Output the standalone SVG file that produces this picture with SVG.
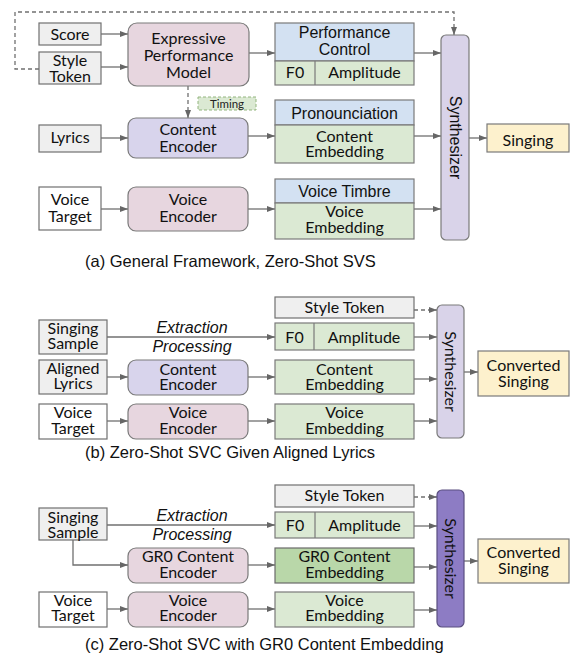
<svg xmlns="http://www.w3.org/2000/svg" width="577" height="657" viewBox="0 0 577 657">
<defs>
<marker id="ah" markerUnits="userSpaceOnUse" markerWidth="8" markerHeight="6" refX="8" refY="3" orient="auto">
<path d="M0,0 L8,3 L0,6 z" fill="#666"/>
</marker>
<style>
.c{fill:none;stroke:#707070;stroke-width:1.3}
.d{stroke-dasharray:4 3}
.gray{fill:#efefef;stroke:#707070;stroke-width:1.2}
.white{fill:#ffffff;stroke:#707070;stroke-width:1.2}
.blue{fill:#d3e1f2;stroke:#7a7a7a;stroke-width:1.2}
.green{fill:#dbe9d3;stroke:#7a7a7a;stroke-width:1.2}
.dgreen{fill:#b9d7a9;stroke:#6a6a6a;stroke-width:1.2}
.pink{fill:#e7d6df;stroke:#7a7a7a;stroke-width:1.2}
.lav{fill:#d8d4ec;stroke:#7a7a7a;stroke-width:1.2}
.syn{fill:#d9d3e9;stroke:#7a7a7a;stroke-width:1.2}
.syn2{fill:#8d7cc4;stroke:#5a4f80;stroke-width:1.2}
.yel{fill:#fdf1cd;stroke:#7a7a7a;stroke-width:1.2}
.t{font-family:Lato,"Open Sans",sans-serif;font-size:16px;fill:#111;text-anchor:middle}
.a{font-family:"Liberation Sans",Arial,sans-serif;font-size:16px;fill:#111;text-anchor:middle}
.i{font-family:"Liberation Sans",Arial,sans-serif;font-size:16px;font-style:italic;fill:#111;text-anchor:middle}
.cap{font-family:"Liberation Sans",Arial,sans-serif;font-size:16.5px;fill:#111}
</style>
</defs>

<g id="connectors">
<!-- (a) -->
<path class="c" d="M101,34 H128" marker-end="url(#ah)"/>
<path class="c" d="M101,67 H128" marker-end="url(#ah)"/>
<path class="c" d="M249,53 H275" marker-end="url(#ah)"/>
<path class="c d" d="M188,86 V118" marker-end="url(#ah)"/>
<path class="c" d="M101,138 H128" marker-end="url(#ah)"/>
<path class="c" d="M248,136 H275" marker-end="url(#ah)"/>
<path class="c" d="M101,209 H128" marker-end="url(#ah)"/>
<path class="c" d="M248,209 H275" marker-end="url(#ah)"/>
<path class="c" d="M414,53 H441" marker-end="url(#ah)"/>
<path class="c" d="M414,136 H441" marker-end="url(#ah)"/>
<path class="c" d="M414,209 H441" marker-end="url(#ah)"/>
<path class="c" d="M469,138 H487" marker-end="url(#ah)"/>
<path class="c d" d="M39,69 H15 V12 H454 V35" marker-end="url(#ah)"/>
<!-- (b) -->
<path class="c" d="M107,337 H275" marker-end="url(#ah)"/>
<path class="c" d="M107,377 H128" marker-end="url(#ah)"/>
<path class="c" d="M248,377 H275" marker-end="url(#ah)"/>
<path class="c" d="M107,421 H128" marker-end="url(#ah)"/>
<path class="c" d="M248,421 H275" marker-end="url(#ah)"/>
<path class="c d" d="M414,310 H437" marker-end="url(#ah)"/>
<path class="c" d="M414,337 H437" marker-end="url(#ah)"/>
<path class="c" d="M414,379 H437" marker-end="url(#ah)"/>
<path class="c" d="M414,421 H437" marker-end="url(#ah)"/>
<path class="c" d="M464,372 H478" marker-end="url(#ah)"/>
<!-- (c) -->
<path class="c" d="M107,525 H275" marker-end="url(#ah)"/>
<path class="c" d="M73,540 V565 H128" marker-end="url(#ah)"/>
<path class="c" d="M248,565 H275" marker-end="url(#ah)"/>
<path class="c" d="M107,609 H128" marker-end="url(#ah)"/>
<path class="c" d="M248,609 H275" marker-end="url(#ah)"/>
<path class="c d" d="M414,497 H437" marker-end="url(#ah)"/>
<path class="c" d="M414,526 H437" marker-end="url(#ah)"/>
<path class="c" d="M414,567 H437" marker-end="url(#ah)"/>
<path class="c" d="M414,610 H437" marker-end="url(#ah)"/>
<path class="c" d="M464,561 H478" marker-end="url(#ah)"/>
</g>

<!-- ===== (a) ===== -->
<g id="a-score"><rect class="gray" x="39" y="23" width="62" height="22"/><text class="t" x="70" y="39.5">Score</text></g>
<g id="a-style"><rect class="gray" x="39" y="52" width="62" height="32"/><text class="t" x="70" y="66">Style</text><text class="t" x="70" y="81.5">Token</text></g>
<g id="a-epm"><rect class="pink" x="128" y="23" width="121" height="63" rx="9"/><text class="t" x="188.5" y="44">Expressive</text><text class="t" x="188.5" y="61">Performance</text><text class="t" x="188.5" y="77.5">Model</text></g>
<g id="a-timing"><rect x="198" y="97" width="58" height="13" fill="#dbe9d3" stroke="#93b57f" stroke-width="1" stroke-dasharray="3 2"/><text x="227" y="107.5" font-family="Lato,'Open Sans',sans-serif" font-size="11.5" fill="#222" text-anchor="middle">Timing</text></g>
<g id="a-perf"><rect class="blue" x="275" y="23" width="139" height="38"/><rect class="green" x="275" y="61" width="139" height="24"/><line x1="315" y1="61" x2="315" y2="85" stroke="#7a7a7a" stroke-width="1.2"/>
<text class="a" x="344.5" y="38">Performance</text><text class="a" x="344.5" y="54.5">Control</text><text class="t" x="295" y="78">F0</text><text class="t" x="364.5" y="78">Amplitude</text></g>
<g id="a-lyrics"><rect class="gray" x="39" y="125" width="62" height="27"/><text class="t" x="70" y="143">Lyrics</text></g>
<g id="a-ce"><rect class="lav" x="128" y="118" width="120" height="40" rx="8"/><text class="t" x="188" y="135">Content</text><text class="t" x="188" y="152">Encoder</text></g>
<g id="a-pron"><rect class="blue" x="275" y="100" width="139" height="25"/><rect class="green" x="275" y="125" width="139" height="38"/><text class="a" x="344.5" y="118.5">Pronounciation</text><text class="t" x="344.5" y="141.5">Content</text><text class="t" x="344.5" y="157">Embedding</text></g>
<g id="a-vt"><rect class="white" x="39" y="187" width="62" height="43"/><text class="t" x="70" y="205">Voice</text><text class="t" x="70" y="221.5">Target</text></g>
<g id="a-ve"><rect class="pink" x="128" y="187" width="120" height="44" rx="8"/><text class="t" x="188" y="205">Voice</text><text class="t" x="188" y="222">Encoder</text></g>
<g id="a-timbre"><rect class="blue" x="275" y="179" width="139" height="24"/><rect class="green" x="275" y="203" width="139" height="36"/><text class="a" x="344.5" y="196.5">Voice Timbre</text><text class="t" x="344.5" y="217">Voice</text><text class="t" x="344.5" y="232.5">Embedding</text></g>
<g id="a-synth"><rect class="syn" x="441" y="35" width="28" height="205" rx="5"/><text class="a" transform="translate(455,137.5) rotate(90)" y="5.5">Synthesizer</text></g>
<g id="a-singing"><rect class="yel" x="487" y="124" width="82" height="28"/><text class="t" x="528" y="145.5" font-size="20">Singing</text></g>
<text class="cap" x="85" y="267">(a) General Framework, Zero-Shot SVS</text>

<!-- ===== (b) ===== -->
<g id="b-ss"><rect class="gray" x="39" y="320" width="68" height="34"/><text class="t" x="73" y="333.5">Singing</text><text class="t" x="73" y="349">Sample</text></g>
<text class="i" x="192" y="333">Extraction</text><text class="i" x="192" y="351.5">Processing</text>
<g id="b-al"><rect class="gray" x="39" y="360" width="68" height="34"/><text class="t" x="73" y="373.5">Aligned</text><text class="t" x="73" y="389">Lyrics</text></g>
<g id="b-ce"><rect class="lav" x="128" y="360" width="120" height="35" rx="8"/><text class="t" x="188" y="374.5">Content</text><text class="t" x="188" y="390">Encoder</text></g>
<g id="b-vt"><rect class="white" x="39" y="404" width="68" height="35"/><text class="t" x="73" y="418">Voice</text><text class="t" x="73" y="433.5">Target</text></g>
<g id="b-ve"><rect class="pink" x="128" y="404" width="120" height="35" rx="8"/><text class="t" x="188" y="418">Voice</text><text class="t" x="188" y="433.5">Encoder</text></g>
<g id="b-st"><rect class="gray" x="275" y="297" width="139" height="21"/><text class="t" x="344.5" y="312.5">Style Token</text></g>
<g id="b-f0"><rect class="green" x="275" y="323" width="139" height="27"/><line x1="314" y1="323" x2="314" y2="350" stroke="#7a7a7a" stroke-width="1.2"/><text class="t" x="294.5" y="343">F0</text><text class="t" x="364" y="343">Amplitude</text></g>
<g id="b-cemb"><rect class="green" x="275" y="360" width="139" height="34"/><text class="t" x="344.5" y="374.5">Content</text><text class="t" x="344.5" y="389.5">Embedding</text></g>
<g id="b-vemb"><rect class="green" x="275" y="404" width="139" height="35"/><text class="t" x="344.5" y="418">Voice</text><text class="t" x="344.5" y="433.5">Embedding</text></g>
<g id="b-synth"><rect class="syn" x="437" y="305" width="27" height="133" rx="5"/><text class="t" transform="translate(450.5,371.5) rotate(90)" y="6" font-size="17">Synthesizer</text></g>
<g id="b-cs"><rect class="yel" x="478" y="351" width="91" height="45"/><text class="t" x="523.5" y="371">Converted</text><text class="t" x="523.5" y="386.5">Singing</text></g>
<text class="cap" x="85" y="458">(b) Zero-Shot SVC Given Aligned Lyrics</text>

<!-- ===== (c) ===== -->
<g id="c-ss"><rect class="gray" x="39" y="508" width="68" height="32"/><text class="t" x="73" y="523">Singing</text><text class="t" x="73" y="537.5">Sample</text></g>
<text class="i" x="192" y="521">Extraction</text><text class="i" x="192" y="539.5">Processing</text>
<g id="c-gce"><rect class="pink" x="128" y="548" width="120" height="35" rx="8"/><text class="t" x="188" y="562">GR0 Content</text><text class="t" x="188" y="578">Encoder</text></g>
<g id="c-vt"><rect class="white" x="39" y="592" width="68" height="35"/><text class="t" x="73" y="605.5">Voice</text><text class="t" x="73" y="621">Target</text></g>
<g id="c-ve"><rect class="pink" x="128" y="592" width="120" height="35" rx="8"/><text class="t" x="188" y="605.5">Voice</text><text class="t" x="188" y="621">Encoder</text></g>
<g id="c-st"><rect class="gray" x="275" y="485" width="139" height="22"/><text class="t" x="344.5" y="500.5">Style Token</text></g>
<g id="c-f0"><rect class="green" x="275" y="512" width="139" height="26"/><line x1="315" y1="512" x2="315" y2="538" stroke="#7a7a7a" stroke-width="1.2"/><text class="t" x="295" y="530.5">F0</text><text class="t" x="364.5" y="530.5">Amplitude</text></g>
<g id="c-gemb"><rect class="dgreen" x="275" y="548" width="139" height="35"/><text class="t" x="344.5" y="562">GR0 Content</text><text class="t" x="344.5" y="578">Embedding</text></g>
<g id="c-vemb"><rect class="green" x="275" y="592" width="139" height="35"/><text class="t" x="344.5" y="605.5">Voice</text><text class="t" x="344.5" y="621">Embedding</text></g>
<g id="c-synth"><rect class="syn2" x="437" y="490" width="27" height="137" rx="5"/><text class="t" transform="translate(450.5,558.5) rotate(90)" y="6" font-size="17">Synthesizer</text></g>
<g id="c-cs"><rect class="yel" x="478" y="539" width="91" height="44"/><text class="t" x="523.5" y="558">Converted</text><text class="t" x="523.5" y="573.5">Singing</text></g>
<text class="cap" x="85" y="650">(c) Zero-Shot SVC with GR0 Content Embedding</text>
</svg>
